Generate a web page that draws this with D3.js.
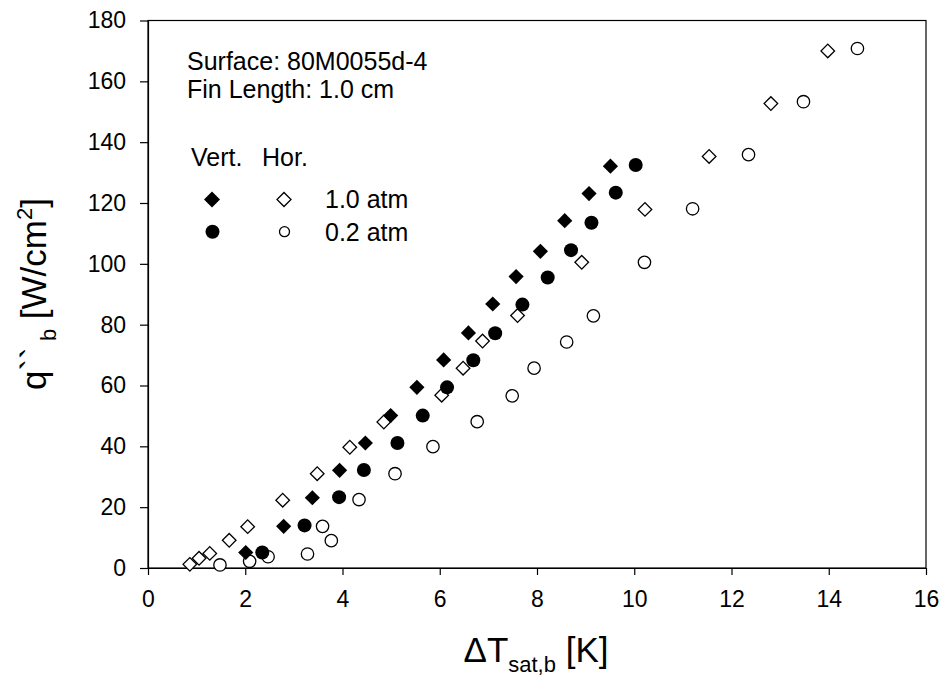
<!DOCTYPE html>
<html>
<head>
<meta charset="utf-8">
<script src="https://cdn.jsdelivr.net/npm/d3@7.9.0/dist/d3.min.js"></script>
<style>
  html, body { margin: 0; padding: 0; background: #fff; }
  svg { display: block; font-family: "Liberation Sans", Arial, sans-serif; }
</style>
</head>
<body>
<svg id="chart" width="941" height="679"></svg>
<script>
// Data: delta T_sat,b [K] and q''_b [W/cm2]
const vert10X = [2.01, 2.79, 3.38, 3.94, 4.47, 4.99, 5.53, 6.08, 6.59, 7.09, 7.57, 8.07, 8.57, 9.07, 9.51];
const vert10Y = [5.1, 13.7, 23.1, 32.1, 41.1, 50.1, 59.4, 68.4, 77.3, 86.8, 95.8, 104.1, 114.2, 123.1, 132.1];

const vert02X = [2.35, 3.22, 3.93, 4.44, 5.13, 5.65, 6.15, 6.69, 7.14, 7.70, 8.22, 8.70, 9.12, 9.62, 10.03];
const vert02Y = [5.1, 14.0, 23.3, 32.2, 41.1, 50.1, 59.4, 68.3, 77.2, 86.6, 95.5, 104.5, 113.5, 123.4, 132.5];

const hor10X = [0.86, 1.05, 1.27, 1.67, 2.05, 2.77, 3.48, 4.15, 4.85, 6.04, 6.48, 6.88, 7.60, 8.92, 10.22, 11.54, 12.81, 13.98];
const hor10Y = [1.2, 3.2, 4.8, 9.1, 13.6, 22.3, 31.0, 39.7, 48.0, 56.8, 65.7, 74.6, 83.0, 100.5, 117.9, 135.3, 152.7, 170.0];

const hor02X = [1.48, 2.09, 2.47, 3.28, 3.59, 3.77, 4.34, 5.08, 5.86, 6.77, 7.49, 7.94, 8.61, 9.16, 10.21, 11.20, 12.35, 13.48, 14.59];
const hor02Y = [1.0, 2.2, 3.7, 4.6, 13.7, 9.0, 22.5, 31.0, 39.9, 48.1, 56.6, 65.7, 74.3, 82.9, 100.5, 118.1, 135.9, 153.3, 170.8];

const xTickValues = [0, 2, 4, 6, 8, 10, 12, 14, 16];
const yTickValues = [0, 20, 40, 60, 80, 100, 120, 140, 160, 180];

const infoLines = ['Surface: 80M0055d-4', 'Fin Length: 1.0 cm'];
const legendHeads = ['Vert.', 'Hor.'];
const legendLabels = ['1.0 atm', '0.2 atm'];

const svg = d3.select('#chart');

const x = d3.scaleLinear().domain([0, 16]).range([148, 926]);
const y = d3.scaleLinear().domain([0, 180]).range([568, 20.5]);

// frame (top and right sides)
svg.append('rect')
  .attr('x', x(0)).attr('y', y(180))
  .attr('width', x(16) - x(0)).attr('height', y(0) - y(180))
  .attr('fill', 'none').attr('stroke', '#000').attr('stroke-width', 1.2);

// axes
const xAxis = svg.append('g')
  .attr('transform', `translate(0,${y(0)})`)
  .call(d3.axisBottom(x).tickValues(xTickValues).tickFormat(d3.format('d'))
    .tickSize(7).tickSizeOuter(0).tickPadding(16));

const yAxis = svg.append('g')
  .attr('transform', `translate(${x(0)},0)`)
  .call(d3.axisLeft(y).tickValues(yTickValues).tickFormat(d3.format('d'))
    .tickSize(8).tickSizeOuter(0).tickPadding(14));

[xAxis, yAxis].forEach((g) => {
  g.select('.domain').attr('stroke', '#000').attr('stroke-width', 1.2);
  g.selectAll('.tick line').attr('stroke', '#000').attr('stroke-width', 1.2);
  g.selectAll('.tick text')
    .attr('fill', '#000')
    .style('font-size', '23px')
    .style('font-family', '"Liberation Sans", Arial, sans-serif');
});

// markers
const diamond = (half) => d3.symbol(d3.symbolSquare, 2 * half * half)();
const circle = (r) => d3.symbol(d3.symbolCircle, Math.PI * r * r)();

function drawSeries(xs, ys, path, isDiamond, filled) {
  svg.append('g')
    .selectAll('path')
    .data(xs.map((v, i) => [v, ys[i]]))
    .join('path')
    .attr('d', path)
    .attr('transform', (d) => `translate(${x(d[0])},${y(d[1])})` + (isDiamond ? ' rotate(45)' : ''))
    .attr('fill', filled ? '#000' : '#fff')
    .attr('stroke', '#000')
    .attr('stroke-width', filled ? 0 : 1.3);
}

drawSeries(hor10X, hor10Y, diamond(6.8), true, false);
drawSeries(hor02X, hor02Y, circle(6.2), false, false);
drawSeries(vert10X, vert10Y, diamond(7.6), true, true);
drawSeries(vert02X, vert02Y, circle(7), false, true);

// annotation
svg.append('g')
  .selectAll('text')
  .data(infoLines)
  .join('text')
  .attr('x', 187)
  .attr('y', (d, i) => 70 + i * 28)
  .style('font-size', '25px')
  .text((d) => d);

// legend
const legend = svg.append('g');
legend.selectAll('text.head')
  .data(legendHeads)
  .join('text')
  .attr('class', 'head')
  .attr('x', (d, i) => [191, 262][i])
  .attr('y', 166)
  .style('font-size', '25px')
  .text((d) => d);

legend.append('path').attr('d', diamond(8))
  .attr('transform', 'translate(212,199.5) rotate(45)').attr('fill', '#000');
legend.append('path').attr('d', diamond(7))
  .attr('transform', 'translate(284,199.5) rotate(45)')
  .attr('fill', '#fff').attr('stroke', '#000').attr('stroke-width', 1.3);
legend.append('path').attr('d', circle(7))
  .attr('transform', 'translate(212.5,231.7)').attr('fill', '#000');
legend.append('path').attr('d', circle(5))
  .attr('transform', 'translate(284.5,231.7)')
  .attr('fill', '#fff').attr('stroke', '#000').attr('stroke-width', 1.3);

legend.selectAll('text.lab')
  .data(legendLabels)
  .join('text')
  .attr('class', 'lab')
  .attr('x', 325)
  .attr('y', (d, i) => 208 + i * 32.5)
  .style('font-size', '25px')
  .text((d) => d);

// axis titles
const xTitle = svg.append('text')
  .attr('x', 536).attr('y', 662)
  .attr('text-anchor', 'middle')
  .style('font-size', '35px');
xTitle.append('tspan').text('\u0394T');
xTitle.append('tspan').attr('dy', 10).style('font-size', '22px').text('sat,b');
xTitle.append('tspan').attr('dy', -10).text(' [K]');

const yTitle = svg.append('text')
  .attr('transform', 'translate(46,294) rotate(-90)')
  .attr('text-anchor', 'middle')
  .style('font-size', '35px');
yTitle.append('tspan').text('q``');
yTitle.append('tspan').attr('dy', 10).style('font-size', '22px').text(' b');
yTitle.append('tspan').attr('dy', -10).text(' [W/cm');
yTitle.append('tspan').attr('dy', -14).style('font-size', '22px').text('2');
yTitle.append('tspan').attr('dy', 14).text(']');
</script>
</body>
</html>
